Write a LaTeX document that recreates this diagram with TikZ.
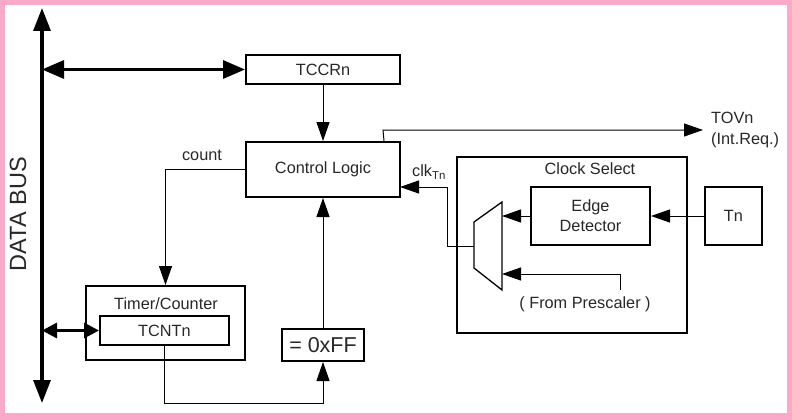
\documentclass[tikz,border=0pt]{standalone}
\usepackage{fontspec}
\setmainfont{Liberation Sans}
\usetikzlibrary{arrows.meta}
\definecolor{pinkframe}{RGB}{250,170,200}
\definecolor{txt}{RGB}{40,40,40}
\tikzset{
  box/.style={draw=black, line width=2pt, rectangle, inner sep=0pt, text=txt, font=\fontsize{16.3}{20}\selectfont},
  lbl/.style={inner sep=0pt, text=txt, font=\fontsize{16.3}{20}\selectfont},
  thin/.style={draw=black, line width=1pt},
  arr/.style={thin, -{Triangle[length=19pt,width=13pt]}},
  busline/.style={draw=black, line width=3.2pt, {Triangle[length=23pt,width=17pt]}-{Triangle[length=23pt,width=17pt]}},
  busarr/.style={draw=black, line width=3.2pt, {Triangle[length=22pt,width=18pt]}-{Triangle[length=22pt,width=18pt]}},
  smallbus/.style={draw=black, line width=3.2pt, {Triangle[length=15pt,width=15pt]}-{Triangle[length=15pt,width=15pt]}}
}
\begin{document}
\begin{tikzpicture}[x=1pt,y=-1pt]
\useasboundingbox (0,0) rectangle (792,420);
\fill[pinkframe] (0,0) rectangle (792,420);
\fill[white] (5,5) rectangle (787,413);

% data bus
\coordinate (bt) at (42,8);
\coordinate (bb) at (42,403);
\draw[busline] (bb) -- (bt);
\node[lbl, rotate=90, font=\fontsize{23.5}{26}\selectfont] (db) at (18,214) {DATA BUS};

% boxes
\node[box, minimum width=154pt, minimum height=29pt] (tccr) at (323,69.5) {TCCRn};
\node[box, minimum width=154pt, minimum height=55pt] (ctrl) at (323,169.5) {Control Logic};
\node[box, minimum width=159pt, minimum height=74pt] (tc) at (165.5,323) {};
\node[lbl] (tclbl) at (166,304) {Timer/Counter};
\node[box, minimum width=129pt, minimum height=29pt] (tcnt) at (164.5,330.5) {TCNTn};
\node[box, minimum width=82pt, minimum height=32pt, font=\fontsize{21.5}{24}\selectfont] (ff) at (323,345) {= 0xFF};
\node[box, minimum width=230pt, minimum height=176pt] (cs) at (572,245) {};
\node[lbl] (cslbl) at (590,169) {Clock Select};
\node[box, minimum width=119pt, minimum height=58pt, align=center] (ed) at (590.5,216) {Edge\\Detector};
\node[box, minimum width=57pt, minimum height=58pt] (tn) at (733.5,216) {Tn};

% bus connections
\coordinate (btccr) at (42,69.5);
\draw[busarr] (btccr) -- (tccr.west);
\coordinate (btcnt) at (42,330.5);
\draw[smallbus] (btcnt) -- (tcnt.west);

% control arrows
\draw[arr] (tccr.south) -- (ctrl.north);
\draw[arr] (ctrl.west) -| (tc.north);
\node[lbl] (count) at (202,155) {count};
\coordinate (loopc) at (164.5,403);
\draw[arr] (tcnt.south) -- (loopc) -| (ff.south);
\draw[arr] (ff.north) -- (ctrl.south);

% TOVn
\coordinate (tov0) at ([xshift=-17pt]ctrl.north east);
\coordinate (tov1) at (383,130);
\coordinate (tovend) at (703,130);
\draw[arr] (tov0) -- (tov1) -- (tovend);
\node[lbl, anchor=west, align=left, font=\fontsize{16.3}{21}\selectfont] (tovlbl) at (711,130) {TOVn\\(Int.Req.)};

% mux
\coordinate (m1) at (474,222);
\coordinate (m2) at (502,202);
\coordinate (m3) at (502,290);
\coordinate (m4) at (474,268);
\draw[line width=1.3pt, line join=miter] (m1) -- (m2) -- (m3) -- (m4) -- cycle;
\coordinate (medin) at (502,216);
\coordinate (mprin) at (502,274);
\coordinate (mout) at (474,246);

\draw[arr] (tn.west) -- (ed.east);
\draw[arr] (ed.west) -- (medin);
\coordinate (pr0) at (620,290);
\coordinate (pr1) at (620,274);
\draw[arr] (pr0) -- (pr1) -- (mprin);
\node[lbl] (prlbl) at (585,304) {( From Prescaler )};

% clk
\coordinate (clkc) at (447,187);
\coordinate (clkend) at (400,187);
\draw[arr] (mout) -| (clkc) -- (clkend);
\node[lbl, anchor=west] (clk) at (412,172) {clk\textsubscript{Tn}};
\end{tikzpicture}
\end{document}
